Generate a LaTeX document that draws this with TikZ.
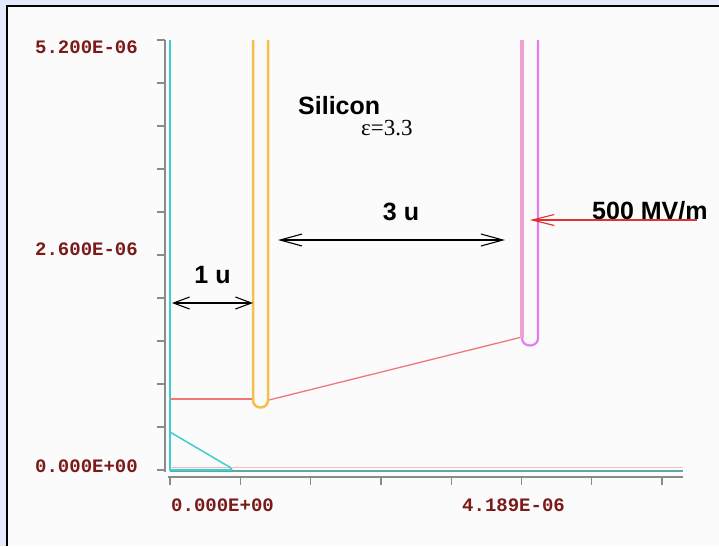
\documentclass[tikz,border=0pt]{standalone}
\usepackage{fontspec}
\setmainfont{Liberation Sans}
\newfontfamily\monof{Liberation Mono}
\newfontfamily\seriff{Liberation Serif}
\usetikzlibrary{arrows.meta}
\definecolor{outerbg}{HTML}{E4EAFB}
\definecolor{innerbg}{HTML}{FBFBFB}
\definecolor{axisgray}{HTML}{8A8A8A}
\definecolor{labred}{HTML}{7A1A1A}
\definecolor{cyanl}{HTML}{3CCFD2}
\definecolor{tealb}{HTML}{5FA8A2}
\definecolor{orangel}{HTML}{F4C04A}
\definecolor{pinkl}{HTML}{F0A0CC}
\definecolor{violetl}{HTML}{E67CF0}
\definecolor{redl}{HTML}{F07878}
\definecolor{redarrow}{HTML}{E03030}
\tikzset{
  axisline/.style={draw=axisgray, line width=1.3pt},
  numlabel/.style={font=\monof\bfseries\fontsize{19}{20}\selectfont, text=labred, inner sep=0pt},
  biglabel/.style={font=\bfseries\fontsize{25}{26}\selectfont, text=black, inner sep=0pt},
  dimarrow/.style={draw=black, line width=1.1pt, {Straight Barb[length=16pt,width=12pt]}-{Straight Barb[length=16pt,width=12pt]}},
  dimarrowlong/.style={draw=black, line width=1.1pt, {Straight Barb[length=22pt,width=12pt]}-{Straight Barb[length=22pt,width=12pt]}},
  fieldarrow/.style={draw=redarrow, line width=1.1pt, -{Straight Barb[length=22pt,width=11pt]}}
}
\begin{document}
\begin{tikzpicture}[x=1pt,y=-1pt]
\fill[outerbg] (0,0) rectangle (719,546);
\useasboundingbox (0,0) rectangle (719,546);
\fill[innerbg] (7,6) rectangle (719,546);
\draw[line width=2pt] (719,6) -- (7,6) -- (7,546);
% y axis
\draw[axisline] (165,40) -- (165,472);
\foreach \i in {0,...,10} \draw[axisline] (157,40+43*\i) -- (165,40+43*\i);
% x axis
\draw[axisline] (168,477) -- (683,477);
\foreach \i in {0,...,7} \draw[axisline] (170+70.3*\i,477) -- (170+70.3*\i,485);
% axis labels
\node[numlabel, anchor=base east] (y1) at (138,53) {5.200E-06};
\node[numlabel, anchor=base east] (y2) at (138,255) {2.600E-06};
\node[numlabel, anchor=base east] (y3) at (138,472) {0.000E+00};
\node[numlabel, anchor=base west] (x1) at (171,511) {0.000E+00};
\node[numlabel, anchor=base west] (x2) at (462,511) {4.189E-06};
% bottom boundary lines
\draw[redl!50, line width=1pt] (170,467.5) -- (683,467.5);
\draw[tealb, line width=2pt] (170,470.5) -- (683,470.5);
% cyan boundary
\draw[cyanl, line width=1.5pt] (170,40) -- (170,470) -- (232,470);
\draw[cyanl, line width=1.5pt] (170,432) -- (226,465) .. controls (230,467) .. (232,470);
% red potential line
\draw[redl, line width=1.3pt] (170,399) -- (253,399);
\draw[redl, line width=1.3pt] (269,400) -- (522,337);
% orange electrode
\draw[orangel, line width=2.5pt] (253,40) -- (253,400) .. controls (253,410) and (268,410) .. (268,400) -- (268,40);
% pink electrode
\draw[violetl, line width=2.2pt] (522,338) .. controls (522,348) and (538,348) .. (538,338) -- (538,40);
\draw[pinkl, line width=4.5pt] (522,40) -- (522,338);
% dimension arrows
\coordinate (a1) at (172,303);
\coordinate (b1) at (253,303);
\draw[dimarrow] (a1) -- (b1);
\node[biglabel, anchor=base] (l1) at (212.5,283) {1 u};
\coordinate (a3) at (278,240);
\coordinate (b3) at (505,240);
\draw[dimarrowlong] (a3) -- (b3);
\node[biglabel, anchor=base] (l3) at (401,220) {3 u};
\coordinate (fs) at (697,220);
\coordinate (fe) at (530,220);
\node[biglabel, anchor=base west] (lf) at (592,219) {500 MV/m};
\draw[fieldarrow] (fs) -- (fe);
% material label
\node[biglabel, anchor=base west] (si) at (298,114) {Silicon};
\node[font=\seriff\fontsize{23}{24}\selectfont, anchor=base west, inner sep=0pt] (eps) at (361,135) {ε=3.3};
\end{tikzpicture}
\end{document}
